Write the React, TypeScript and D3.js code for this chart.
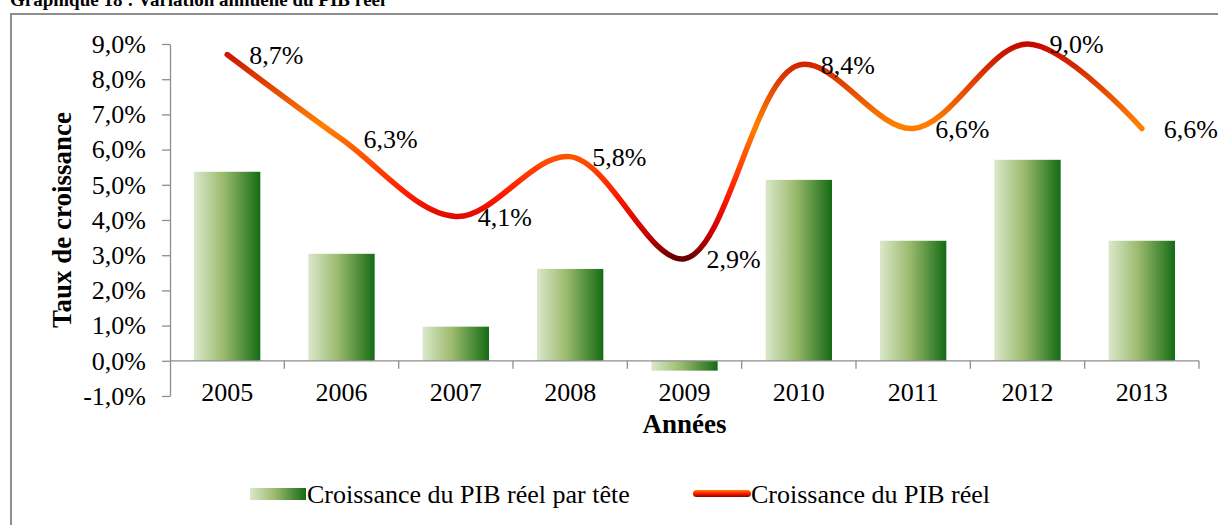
import { useEffect, useRef } from 'react';
import * as d3 from 'd3';

// Values
const YEARS = ['2005', '2006', '2007', '2008', '2009', '2010', '2011', '2012', '2013'];
const PIB_PAR_TETE = [5.37, 3.04, 0.97, 2.61, -0.28, 5.14, 3.41, 5.71, 3.41];
const PIB_REEL = [8.7, 6.3, 4.1, 5.8, 2.9, 8.4, 6.6, 9.0, 6.6];
const Y_TICKS = [-1, 0, 1, 2, 3, 4, 5, 6, 7, 8, 9];

const FONT = 'Liberation Serif, Times New Roman, serif';
const pct = (v: number) => d3.format('.1f')(v).replace('.', ',').replace('\u2212', '-') + '%';

export default function App() {
    const svgRef = useRef<SVGSVGElement | null>(null);

    useEffect(() => {
        const svg = d3.select(svgRef.current);
        svg.selectAll('*').remove();

        const width = 1218;
        const height = 525;
        const left = 170, right = 1199, top = 44, bottom = 396;

        const defs = svg.append('defs');

        // green bar gradient (light left -> dark right)
        const barGrad = defs.append('linearGradient')
            .attr('id', 'barGrad')
            .attr('x1', '0%').attr('x2', '100%').attr('y1', '0%').attr('y2', '0%');
        barGrad.append('stop').attr('offset', '0%').attr('stop-color', '#dbe8cb');
        barGrad.append('stop').attr('offset', '45%').attr('stop-color', '#9aba6c');
        barGrad.append('stop').attr('offset', '100%').attr('stop-color', '#156b15');

        // background frame
        svg.append('rect')
            .attr('width', width).attr('height', height).attr('fill', '#fff');
        svg.append('rect')
            .attr('x', 11).attr('y', 14)
            .attr('width', 1212).attr('height', 520)
            .attr('fill', 'none')
            .attr('stroke', '#8e8e8e')
            .attr('stroke-width', 2);

        // title (cut off at the top like the source)
        svg.append('text')
            .attr('x', 10).attr('y', 6)
            .attr('font-size', 19)
            .attr('font-weight', 'bold')
            .text('Graphique 18 : Variation annuelle du PIB réel');

        const x = d3.scaleBand<string>()
            .domain(YEARS)
            .range([left, right])
            .paddingInner(0.42)
            .paddingOuter(0.21);

        const y = d3.scaleLinear().domain([-1, 9]).range([bottom, top]);

        // line gradient varies with height
        const lineGrad = defs.append('linearGradient')
            .attr('id', 'lineGrad')
            .attr('gradientUnits', 'userSpaceOnUse')
            .attr('x1', 0).attr('x2', 0)
            .attr('y1', y(9.2)).attr('y2', y(2.6));
        lineGrad.append('stop').attr('offset', '0%').attr('stop-color', '#c00000');
        lineGrad.append('stop').attr('offset', '13%').attr('stop-color', '#d42a00');
        lineGrad.append('stop').attr('offset', '38%').attr('stop-color', '#ff8000');
        lineGrad.append('stop').attr('offset', '68%').attr('stop-color', '#ff1a00');
        lineGrad.append('stop').attr('offset', '85%').attr('stop-color', '#c80000');
        lineGrad.append('stop').attr('offset', '100%').attr('stop-color', '#400000');

        const legGrad = defs.append('linearGradient')
            .attr('id', 'legGrad')
            .attr('x1', 0).attr('x2', 0).attr('y1', '0%').attr('y2', '100%');
        legGrad.append('stop').attr('offset', '0%').attr('stop-color', '#ff8000');
        legGrad.append('stop').attr('offset', '50%').attr('stop-color', '#ff1a00');
        legGrad.append('stop').attr('offset', '100%').attr('stop-color', '#8a0000');

        // bars
        svg.append('g')
            .selectAll('rect')
            .data(PIB_PAR_TETE)
            .enter()
            .append('rect')
            .attr('x', (_, i) => x(YEARS[i]) as number)
            .attr('width', x.bandwidth())
            .attr('y', d => y(Math.max(0, d)))
            .attr('height', d => Math.abs(y(d) - y(0)))
            .attr('fill', 'url(#barGrad)');

        // y axis
        const yAxis = svg.append('g')
            .attr('transform', `translate(${left},0)`)
            .call(d3.axisLeft(y).tickValues(Y_TICKS).tickFormat(d => pct(d as number)).tickSize(8).tickSizeOuter(0).tickPadding(16));
        yAxis.attr('font-family', FONT).attr('font-size', 26);
        yAxis.select('.domain').attr('stroke', '#8e8e8e').attr('stroke-width', 1.3);
        yAxis.selectAll('line').attr('stroke', '#8e8e8e').attr('stroke-width', 1.3);
        yAxis.selectAll('text').attr('fill', '#000');

        // x axis at zero
        const boundaries = YEARS.map(d => (x(d) as number) - x.step() * x.paddingInner() / 2)
            .concat([right]);
        const xg = svg.append('g');
        xg.append('line')
            .attr('x1', left).attr('x2', right)
            .attr('y1', y(0)).attr('y2', y(0))
            .attr('stroke', '#8e8e8e').attr('stroke-width', 1.3);
        xg.selectAll('.tick')
            .data(boundaries.slice(1))
            .enter()
            .append('line')
            .attr('x1', d => d).attr('x2', d => d)
            .attr('y1', y(0)).attr('y2', y(0) + 8)
            .attr('stroke', '#8e8e8e').attr('stroke-width', 1.3);
        xg.selectAll('.lbl')
            .data(YEARS)
            .enter()
            .append('text')
            .attr('x', d => (x(d) as number) + x.bandwidth() / 2)
            .attr('y', y(0) + 40)
            .attr('text-anchor', 'middle')
            .attr('font-size', 26)
            .text(d => d);

        // axis titles
        svg.append('text')
            .attr('x', (left + right) / 2)
            .attr('y', 433)
            .attr('text-anchor', 'middle')
            .attr('font-size', 27)
            .attr('font-weight', 'bold')
            .text('Années');

        svg.append('text')
            .attr('transform', `translate(71,${(top + bottom) / 2}) rotate(-90)`)
            .attr('text-anchor', 'middle')
            .attr('font-size', 27)
            .attr('font-weight', 'bold')
            .text('Taux de croissance');

        // smooth line
        const line = d3.line<number>()
            .x((_, i) => (x(YEARS[i]) as number) + x.bandwidth() / 2)
            .y(d => y(d))
            .curve(d3.curveCatmullRom.alpha(0.5));

        svg.append('path')
            .datum(PIB_REEL)
            .attr('fill', 'none')
            .attr('stroke', 'url(#lineGrad)')
            .attr('stroke-width', 5.5)
            .attr('stroke-linecap', 'round')
            .attr('d', line);

        // data labels
        svg.append('g')
            .selectAll('text')
            .data(PIB_REEL)
            .enter()
            .append('text')
            .attr('x', (_, i) => (x(YEARS[i]) as number) + x.bandwidth() / 2 + 22)
            .attr('y', d => y(d))
            .attr('dy', '0.35em')
            .attr('font-size', 26)
            .text(d => pct(d));

        // legend
        const legend = svg.append('g');
        legend.append('rect')
            .attr('x', 250).attr('y', 488)
            .attr('width', 56).attr('height', 12)
            .attr('fill', 'url(#barGrad)');
        legend.append('text')
            .attr('x', 307).attr('y', 503)
            .attr('font-size', 26)
            .text('Croissance du PIB réel par tête');
        legend.append('rect')
            .attr('x', 693).attr('y', 490)
            .attr('width', 58).attr('height', 7)
            .attr('rx', 3.5)
            .attr('fill', 'url(#legGrad)');
        legend.append('text')
            .attr('x', 751).attr('y', 503)
            .attr('font-size', 26)
            .text('Croissance du PIB réel');
    }, []);

    return (
        <svg
            ref={svgRef}
            width={1218}
            height={525}
            fontFamily={FONT}
            style={{ position: 'absolute', left: 0, top: 0, display: 'block' }}
        />
    );
}
